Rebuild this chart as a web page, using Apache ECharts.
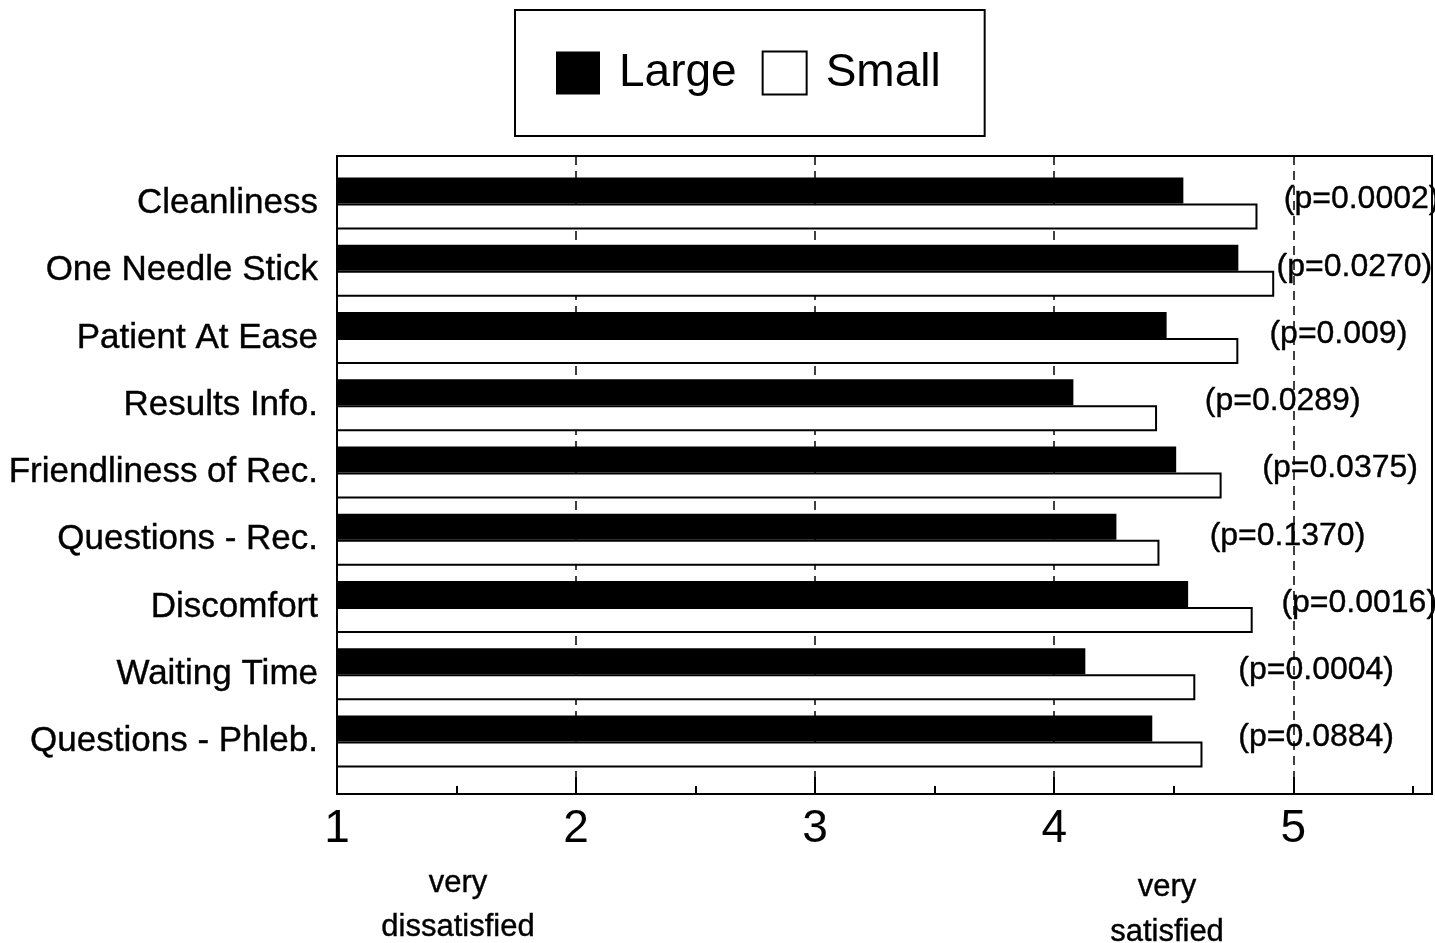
<!DOCTYPE html>
<html>
<head>
<meta charset="utf-8">
<title>Satisfaction - Large vs Small</title>
<script src="https://cdn.jsdelivr.net/npm/echarts@6/dist/echarts.min.js"></script>
<style>
    html, body { margin: 0; padding: 0; background: #fff; }
    #main { width: 1435px; height: 943px; }
</style>
</head>
<body>
<div id="main"></div>
<script>
var categories = ['Cleanliness', 'One Needle Stick', 'Patient At Ease', 'Results Info.',
    'Friendliness of Rec.', 'Questions - Rec.', 'Discomfort', 'Waiting Time', 'Questions - Phleb.'];
var largeValues = [4.54, 4.77, 4.47, 4.08, 4.51, 4.26, 4.56, 4.13, 4.41];
var smallValues = [4.85, 4.92, 4.77, 4.43, 4.70, 4.44, 4.83, 4.59, 4.62];
var pLabels = ['(p=0.0002)', '(p=0.0270)', '(p=0.009)', '(p=0.0289)', '(p=0.0375)',
    '(p=0.1370)', '(p=0.0016)', '(p=0.0004)', '(p=0.0884)'];
// where each p label starts, in scale units
var pLabelAt = [4.96, 4.93, 4.90, 4.63, 4.87, 4.65, 4.95, 4.77, 4.77];
var xMin = 1, xMax = 5.58;

var font = '"Liberation Sans", Arial, sans-serif';
var myChart = echarts.init(document.getElementById('main'));

var option = {
    animation: false,
    textStyle: { fontFamily: font, color: '#000' },
    legend: {
        data: ['Large', 'Small'],
        left: 515,
        top: 10,
        padding: [40, 44, 40, 41],
        icon: 'rect',
        itemWidth: 44,
        itemHeight: 43,
        itemGap: 25,
        borderColor: '#000',
        borderWidth: 2,
        backgroundColor: '#fff',
        selectedMode: false,
        textStyle: { fontSize: 46, color: '#000', fontFamily: font, padding: [0, 0, 0, 14] }
    },
    grid: [
        { left: 337, right: 3, top: 156, bottom: 149, show: true, borderColor: '#000', borderWidth: 2 },
        { left: 337, right: 3, top: 156, bottom: 149 },
        { left: 337, right: 3, top: 170, bottom: 168 }
    ],
    xAxis: [
        {
            gridIndex: 0, type: 'value', min: xMin, max: xMax, interval: 1,
            axisLine: { show: true, lineStyle: { color: '#000', width: 2 } },
            axisTick: { show: true, inside: true, length: 17, lineStyle: { color: '#000', width: 2 } },
            axisLabel: {
                fontSize: 46, margin: 12, color: '#000', fontFamily: font, showMaxLabel: false,
                formatter: function (v) { return v % 1 === 0 ? String(v) : ''; }
            },
            splitLine: { show: true, lineStyle: { color: '#000', width: 1.5, type: [9, 6] } }
        },
        {
            gridIndex: 1, type: 'value', min: xMin, max: xMax, interval: 0.5,
            axisLine: { show: false },
            axisTick: { show: true, inside: true, length: 8, lineStyle: { color: '#000', width: 2 } },
            axisLabel: { show: false },
            splitLine: { show: false }
        },
        { gridIndex: 2, type: 'value', min: xMin, max: xMax, show: false, splitLine: { show: false } }
    ],
    yAxis: [
        { gridIndex: 0, type: 'value', show: false, splitLine: { show: false } },
        { gridIndex: 1, type: 'value', show: false, splitLine: { show: false } },
        {
            gridIndex: 2, type: 'category', inverse: true, data: categories,
            axisLine: { show: false },
            axisTick: { show: false },
            axisLabel: {
                fontSize: 35, margin: 19, color: '#000', fontFamily: font,
                textBorderColor: '#000', textBorderWidth: 0.4
            }
        }
    ],
    series: [
        {
            name: 'Large', type: 'bar', xAxisIndex: 2, yAxisIndex: 2,
            data: largeValues, barWidth: 26, barGap: '0%',
            itemStyle: { color: '#000' }
        },
        {
            name: 'Small', type: 'bar', xAxisIndex: 2, yAxisIndex: 2,
            data: smallValues, barWidth: 26, barGap: '0%',
            itemStyle: { color: '#fff', borderColor: '#000', borderWidth: 2 }
        },
        {
            name: 'p', type: 'scatter', xAxisIndex: 2, yAxisIndex: 2, silent: true,
            symbolSize: 0,
            itemStyle: { opacity: 1 },
            data: pLabelAt.map(function (v, i) { return [v, i]; }),
            label: {
                show: true, position: 'right', distance: 0, offset: [0, -4],
                fontSize: 32, color: '#000', opacity: 1, fontFamily: font,
                textBorderColor: '#000', textBorderWidth: 0.4,
                formatter: function (p) { return pLabels[p.dataIndex]; }
            }
        }
    ],
    graphic: [
        {
            type: 'text', x: 458, y: 861, silent: true,
            style: {
                text: 'very\ndissatisfied', font: '31px ' + font, align: 'center', verticalAlign: 'top',
                lineHeight: 44, fill: '#000', stroke: '#000', lineWidth: 0.4
            }
        },
        {
            type: 'text', x: 1167, y: 865, silent: true,
            style: {
                text: 'very\nsatisfied', font: '31px ' + font, align: 'center', verticalAlign: 'top',
                lineHeight: 45, fill: '#000', stroke: '#000', lineWidth: 0.4
            }
        }
    ]
};
myChart.setOption(option);
</script>
</body>
</html>
